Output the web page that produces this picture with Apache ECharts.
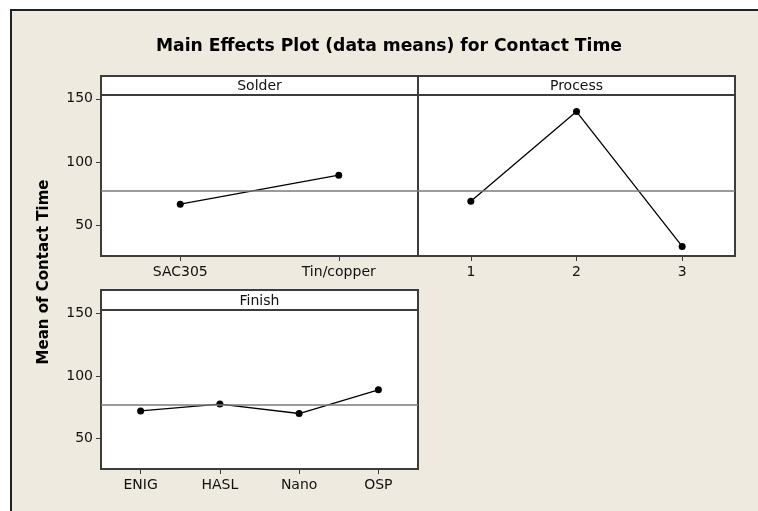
<!DOCTYPE html>
<html>
<head>
<meta charset="utf-8">
<title>Main Effects Plot</title>
<script src="https://cdn.jsdelivr.net/npm/echarts@6/dist/echarts.min.js"></script>
<style>
  html, body { margin: 0; padding: 0; background: #ffffff; }
  #chart { width: 758px; height: 511px; }
</style>
</head>
<body>
<div id="chart"></div>
<script>
// data
const solderLevels = ['SAC305', 'Tin/copper']
const solderMeans = [66.5, 89.5]
const processLevels = ['1', '2', '3']
const processMeans = [68.9, 139.9, 33.1]
const finishLevels = ['ENIG', 'HASL', 'Nano', 'OSP']
const finishMeans = [72.1, 77.6, 70.0, 89.0]
const grandMean = 77
const yTicks = [50, 100, 150]
const yMin = 25.5
const yMax = 153

const BG = '#eeeae0'
const FRAME = '#3c3c3c'
const FONT = 'DejaVu Sans'

// panel boxes: header top, header height, plot bottom
const panels = [
  { name: 'Solder', left: 101, top: 76, width: 317, head: 19, bottom: 256, levels: solderLevels, means: solderMeans, labels: true },
  { name: 'Process', left: 418, top: 76, width: 317, head: 19, bottom: 256, levels: processLevels, means: processMeans, labels: false },
  { name: 'Finish', left: 101, top: 290, width: 317, head: 20, bottom: 469, levels: finishLevels, means: finishMeans, labels: true }
]

const grids = panels.map(p => ({
  left: p.left,
  top: p.top + p.head,
  width: p.width,
  height: p.bottom - p.top - p.head,
  show: true,
  backgroundColor: '#ffffff',
  borderColor: FRAME,
  borderWidth: 2
}))

const xAxes = panels.map((p, i) => ({
  type: 'category',
  gridIndex: i,
  data: p.levels,
  boundaryGap: true,
  axisLine: { show: false },
  axisTick: { show: true, alignWithLabel: true, length: 5, lineStyle: { color: FRAME } },
  axisLabel: { color: '#111', fontFamily: FONT, fontSize: 14, margin: 9 },
  splitLine: { show: false }
}))

const yAxes = panels.map((p, i) => ({
  type: 'value',
  gridIndex: i,
  min: yMin,
  max: yMax,
  axisLine: { show: false },
  axisTick: { show: p.labels, length: 5, customValues: yTicks, lineStyle: { color: FRAME } },
  axisLabel: { show: p.labels, customValues: yTicks, color: '#111', fontFamily: FONT, fontSize: 14, margin: 8 },
  splitLine: { show: false }
}))

const series = panels.map((p, i) => ({
  type: 'line',
  xAxisIndex: i,
  yAxisIndex: i,
  data: p.means,
  symbol: 'circle',
  symbolSize: 7,
  itemStyle: { color: '#000' },
  lineStyle: { color: '#000', width: 1.3 },
  animation: false,
  markLine: {
    silent: true,
    symbol: 'none',
    label: { show: false },
    lineStyle: { color: '#7a7a7a', width: 1.5, type: 'solid' },
    data: [{ yAxis: grandMean }]
  }
}))

// header strips with the factor names
const headers = panels.flatMap(p => [
  {
    type: 'rect',
    shape: { x: p.left, y: p.top, width: p.width, height: p.head },
    style: { fill: '#ffffff', stroke: FRAME, lineWidth: 2 },
    z: 10
  },
  {
    type: 'text',
    x: p.left + p.width / 2,
    y: p.top + p.head / 2 + 1,
    style: { text: p.name, fill: '#111', font: `14px "${FONT}"`, textAlign: 'center', textVerticalAlign: 'middle' },
    z: 11
  }
])

const chart = echarts.init(document.getElementById('chart'), null, { renderer: 'canvas' })
chart.setOption({
  animation: false,
  backgroundColor: '#ffffff',
  title: {
    text: 'Main Effects Plot (data means) for Contact Time',
    left: 384,
    top: 33,
    textAlign: 'center',
    textStyle: { fontFamily: FONT, fontWeight: 'bold', fontSize: 17.2, color: '#000' }
  },
  grid: grids,
  xAxis: xAxes,
  yAxis: yAxes,
  series: series,
  graphic: [
    {
      type: 'rect',
      shape: { x: 11, y: 10, width: 760, height: 510 },
      style: { fill: BG, stroke: '#222', lineWidth: 2 },
      z: -10,
      silent: true
    },
    {
      type: 'text',
      x: 44,
      y: 272,
      rotation: Math.PI / 2,
      style: { text: 'Mean of Contact Time', fill: '#000', font: `bold 15px "${FONT}"`, textAlign: 'center', textVerticalAlign: 'middle' }
    },
    ...headers
  ]
})
</script>
</body>
</html>
